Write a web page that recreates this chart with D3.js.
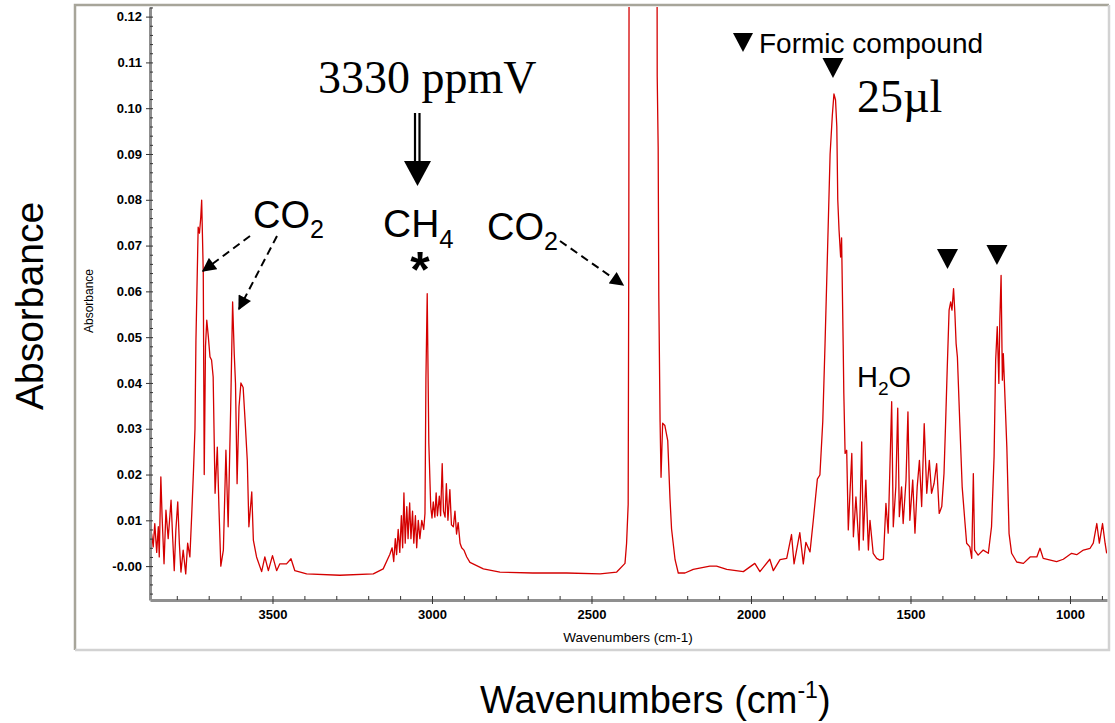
<!DOCTYPE html>
<html>
<head>
<meta charset="utf-8">
<script src="https://cdn.jsdelivr.net/npm/d3@7"></script>
<style>
  body { margin: 0; background: #fff; }
  text { font-family: Arial, "Liberation Sans", sans-serif; fill: #000; }
</style>
</head>
<body>
<script>
// spectrum, one value per point (cm-1 / absorbance)
var wavenumber = [
  3879, 3874, 3869, 3863, 3858, 3855, 3850, 3846, 3840,
  3834, 3827, 3818, 3813, 3808, 3803, 3797, 3792, 3787, 3780,
  3772, 3766, 3759, 3753, 3748, 3743, 3740, 3733, 3729, 3725,
  3722, 3717, 3714, 3710, 3706, 3701, 3696, 3691, 3686, 3680,
  3673, 3668, 3662, 3654, 3646, 3639, 3631, 3625, 3620, 3616,
  3611, 3605, 3599, 3592, 3586, 3579, 3574, 3565, 3560, 3550,
  3534, 3524, 3513, 3500, 3487, 3477, 3456, 3442, 3430, 3393,
  3289, 3184, 3153, 3132, 3125, 3120, 3115, 3111, 3106, 3101,
  3096, 3092, 3088, 3084, 3079, 3075, 3070, 3066, 3061, 3057,
  3052, 3048, 3043, 3038, 3032, 3026, 3022, 3019, 3015, 3010,
  3004, 3000, 2996, 2991, 2987, 2983, 2977, 2973, 2968, 2964,
  2959, 2955, 2950, 2944, 2939, 2933, 2928, 2923, 2918, 2912,
  2907, 2900, 2891, 2881, 2839, 2787, 2684, 2578, 2473, 2421,
  2395, 2390, 2385, 2383, 2380, 2298, 2294, 2291, 2289, 2285,
  2282, 2277, 2270, 2261, 2254, 2249, 2238, 2228, 2207, 2181,
  2129, 2108, 2076, 2024, 1988, 1972, 1941, 1930, 1909, 1888,
  1873, 1865, 1847, 1836, 1828, 1815, 1805, 1792, 1784, 1775,
  1768, 1760, 1752, 1745, 1740, 1735, 1731, 1728, 1724, 1719,
  1716, 1711, 1709, 1705, 1700, 1695, 1684, 1679, 1671, 1661,
  1653, 1648, 1640, 1632, 1627, 1617, 1606, 1596, 1585, 1577,
  1570, 1559, 1554, 1546, 1540, 1535, 1528, 1523, 1514, 1508,
  1502, 1493, 1486, 1479, 1472, 1465, 1457, 1449, 1441, 1434,
  1426, 1418, 1410, 1402, 1395, 1390, 1385, 1379, 1374, 1370,
  1365, 1361, 1357, 1353, 1345, 1338, 1329, 1324, 1314, 1308,
  1303, 1299, 1288, 1272, 1256, 1246, 1238, 1233, 1228, 1223,
  1220, 1216, 1212, 1209, 1198, 1191, 1183, 1167, 1146, 1125,
  1104, 1094, 1084, 1042, 1021, 995, 979, 958, 937, 927,
  916, 908, 898, 890, 885
];
var absorbance = [
  0.0071, 0.0042, 0.0093, 0.0030, 0.0086, 0.0020, 0.0195, 0.0107, 0.0005,
  0.0122, 0.0060, 0.0144, 0.0063, -0.0010, 0.0078, 0.0140, 0.0050, -0.0013, 0.0035,
  -0.0017, 0.0050, 0.0020, 0.0116, 0.0203, 0.0300, 0.0493, 0.0740, 0.0727, 0.0760,
  0.0799, 0.0640, 0.0200, 0.0480, 0.0537, 0.0500, 0.0457, 0.0450, 0.0413, 0.0159,
  0.0260, 0.0130, 0.0000, 0.0035, 0.0253, 0.0086, 0.0348, 0.0577, 0.0465, 0.0400,
  0.0180, 0.0348, 0.0400, 0.0390, 0.0319, 0.0230, 0.0086, 0.0162, 0.0057, 0.0020,
  -0.0012, 0.0020, -0.0010, 0.0023, -0.0010, 0.0005, 0.0005, 0.0016, -0.0010, -0.0017,
  -0.0020, -0.0017, -0.0006, 0.0026, 0.0040, 0.0010, 0.0060, 0.0025, 0.0080, 0.0030,
  0.0110, 0.0040, 0.0160, 0.0050, 0.0130, 0.0060, 0.0138, 0.0060, 0.0120, 0.0050,
  0.0110, 0.0040, 0.0100, 0.0060, 0.0100, 0.0080, 0.0115, 0.0410, 0.0595, 0.0270,
  0.0130, 0.0105, 0.0140, 0.0107, 0.0160, 0.0110, 0.0153, 0.0110, 0.0224, 0.0120,
  0.0107, 0.0180, 0.0100, 0.0167, 0.0090, 0.0086, 0.0120, 0.0070, 0.0095, 0.0050,
  0.0040, 0.0035, 0.0020, 0.0008, -0.0006, -0.0013, -0.0015, -0.0015, -0.0017, -0.0013,
  0.0006, 0.0050, 0.0135, 0.0720, 0.3000, 0.3000, 0.1070, 0.0914, 0.0590, 0.0316,
  0.0194, 0.0312, 0.0307, 0.0274, 0.0148, 0.0081, 0.0014, -0.0015, -0.0015, -0.0007,
  0.0000, 0.0000, -0.0007, -0.0012, 0.0006, -0.0012, 0.0015, -0.0010, 0.0014, 0.0017,
  0.0069, 0.0005, 0.0073, 0.0005, 0.0052, 0.0031, 0.0098, 0.0190, 0.0199, 0.0316,
  0.0483, 0.0690, 0.0900, 0.0985, 0.1031, 0.1018, 0.0960, 0.0800, 0.0734, 0.0675,
  0.0717, 0.0483, 0.0377, 0.0246, 0.0253, 0.0079, 0.0246, 0.0064, 0.0151, 0.0035,
  0.0271, 0.0057, 0.0188, 0.0035, 0.0100, 0.0028, 0.0017, 0.0013, 0.0015, 0.0137,
  0.0072, 0.0359, 0.0086, 0.0173, 0.0345, 0.0108, 0.0173, 0.0093, 0.0188, 0.0337,
  0.0100, 0.0188, 0.0072, 0.0173, 0.0231, 0.0130, 0.0311, 0.0159, 0.0231, 0.0159,
  0.0181, 0.0224, 0.0115, 0.0130, 0.0202, 0.0311, 0.0428, 0.0559, 0.0577, 0.0559,
  0.0606, 0.0555, 0.0486, 0.0457, 0.0304, 0.0173, 0.0093, 0.0050, 0.0042, 0.0017,
  0.0202, 0.0035, 0.0024, 0.0035, 0.0028, 0.0086, 0.0239, 0.0450, 0.0523, 0.0399,
  0.0537, 0.0635, 0.0406, 0.0464, 0.0260, 0.0071, 0.0028, 0.0009, 0.0006, 0.0020,
  0.0020, 0.0039, 0.0017, 0.0010, 0.0015, 0.0028, 0.0025, 0.0035, 0.0039, 0.0050,
  0.0093, 0.0050, 0.0093, 0.0050, 0.0028
];

var yTickValues = [0, 0.01, 0.02, 0.03, 0.04, 0.05, 0.06, 0.07, 0.08, 0.09, 0.10, 0.11, 0.12];
var xTickValues = [3500, 3000, 2500, 2000, 1500, 1000];
// formic compound bands marked with a triangle
var formicBands = [1743, 1384, 1229];

var plotLeft = 150, plotRight = 1107, plotTop = 7, plotBottom = 600;

var x = d3.scaleLinear().domain([3884, 884]).range([plotLeft, plotRight]);
var y = d3.scaleLinear().domain([-0.0074, 0.1221]).range([plotBottom, plotTop]);

var svg = d3.select("body").append("svg")
    .attr("width", 1115)
    .attr("height", 723);

// outer frame of the spectrum window
var frame = svg.append("g").attr("fill", "none").attr("stroke-width", 2.5);
frame.append("path").attr("d", "M75,650V5H1109").attr("stroke", "#a7a59a");
frame.append("path").attr("d", "M1109,5V650H75").attr("stroke", "#d2d2d2");

svg.append("clipPath").attr("id", "plotClip")
  .append("rect")
    .attr("x", plotLeft).attr("y", plotTop)
    .attr("width", plotRight - plotLeft).attr("height", plotBottom - plotTop);

var points = wavenumber.map(function (w, i) { return [w, absorbance[i]]; });

var line = d3.line()
    .x(function (d) { return x(d[0]); })
    .y(function (d) { return y(d[1]); });

svg.append("path")
    .datum(points)
    .attr("clip-path", "url(#plotClip)")
    .attr("fill", "none")
    .attr("stroke", "#d40000")
    .attr("stroke-width", 1.3)
    .attr("stroke-linejoin", "round")
    .attr("d", line);

// axes
svg.append("g")
    .attr("transform", "translate(" + plotLeft + ",0)")
    .call(d3.axisLeft(y)
        .tickValues(yTickValues)
        .tickFormat(function (d) { return d === 0 ? "-0.00" : d3.format(".2f")(d); })
        .tickSize(4).tickSizeOuter(0).tickPadding(4));

svg.append("g")
    .attr("transform", "translate(" + plotLeft + ",0)")
    .call(d3.axisLeft(y).tickValues(d3.range(-0.006, 0.1221, 0.002)).tickFormat("").tickSize(-3))
    .call(function (g) { g.select(".domain").remove(); });

svg.append("g")
    .attr("transform", "translate(0," + plotBottom + ")")
    .call(d3.axisBottom(x)
        .tickValues(xTickValues)
        .tickFormat(d3.format("d"))
        .tickSize(4).tickSizeOuter(0).tickPadding(6));

svg.append("g")
    .attr("transform", "translate(0," + plotBottom + ")")
    .call(d3.axisBottom(x).tickValues(d3.range(900, 3900, 100)).tickFormat("").tickSize(-4))
    .call(function (g) { g.select(".domain").remove(); });

svg.selectAll(".domain").attr("stroke", "#8f8f8f").attr("stroke-width", 3);
svg.selectAll(".tick line").attr("stroke", "#333");
svg.selectAll(".tick text")
    .attr("fill", "#1a1a1a")
    .style("font-size", "13px")
    .style("font-weight", "bold")
    .style("font-family", "Arial, 'Liberation Sans', sans-serif");

// small titles of the instrument plot
svg.append("text")
    .attr("transform", "translate(93,301) rotate(-90)")
    .attr("text-anchor", "middle")
    .style("font-size", "12px")
    .text("Absorbance");

svg.append("text")
    .attr("x", 628).attr("y", 642)
    .attr("text-anchor", "middle")
    .style("font-size", "13.5px")
    .text("Wavenumbers (cm-1)");

// big titles
svg.append("text")
    .attr("transform", "translate(43,306) rotate(-90)")
    .attr("text-anchor", "middle")
    .style("font-size", "39px")
    .text("Absorbance");

var bigX = svg.append("text")
    .attr("x", 480).attr("y", 713)
    .style("font-size", "38px");
bigX.append("tspan").text("Wavenumbers (cm");
bigX.append("tspan").attr("dy", -15).style("font-size", "23px").text("-1");
bigX.append("tspan").attr("dy", 15).text(")");

// labels with a subscript
function formula(px, py, main, sub, after, size) {
  var t = svg.append("text").attr("x", px).attr("y", py).style("font-size", size + "px");
  t.append("tspan").text(main);
  t.append("tspan").attr("dy", size * 0.27).style("font-size", (size * 0.66) + "px").text(sub);
  if (after) t.append("tspan").attr("dy", -size * 0.27).text(after);
  return t;
}

formula(253, 228, "CO", "2", null, 38);
formula(383, 237, "CH", "4", null, 39);
formula(487, 240, "CO", "2", null, 38);
formula(857, 387, "H", "2", "O", 29);

svg.append("text")
    .attr("x", 420).attr("y", 287)
    .attr("text-anchor", "middle")
    .style("font-size", "50px")
    .style("font-weight", "bold")
    .text("*");

svg.append("text")
    .attr("x", 318).attr("y", 93)
    .style("font-family", "'Liberation Serif', 'Times New Roman', serif")
    .style("font-size", "46px")
    .text("3330 ppmV");

svg.append("text")
    .attr("x", 857).attr("y", 112)
    .style("font-family", "'Liberation Serif', 'Times New Roman', serif")
    .style("font-size", "46px")
    .text("25\u00b5l");

svg.append("text")
    .attr("x", 759).attr("y", 53)
    .style("font-size", "28px")
    .text("Formic compound");

// triangles
function triangle(cx, ty, w, h) {
  return "M" + (cx - w / 2) + "," + ty + "H" + (cx + w / 2) + "L" + cx + "," + (ty + h) + "Z";
}
var markTops = [58, 249, 245];
svg.append("path").attr("d", triangle(743, 33, 20, 19)).attr("fill", "#000");
svg.selectAll(".band-mark")
    .data(formicBands)
  .enter().append("path")
    .attr("class", "band-mark")
    .attr("fill", "#000")
    .attr("d", function (d, i) { return triangle(x(d), markTops[i], 21, 20); });

// double shafted arrow to CH4
var arrow = svg.append("g").attr("stroke", "#000").attr("stroke-width", 2.2);
arrow.append("line").attr("x1", 415).attr("x2", 415).attr("y1", 113).attr("y2", 164);
arrow.append("line").attr("x1", 419.5).attr("x2", 419.5).attr("y1", 113).attr("y2", 164);
svg.append("path").attr("d", "M404,161H431L417.5,186Z").attr("fill", "#000");

// dashed pointers
svg.append("defs").append("marker")
    .attr("id", "head")
    .attr("viewBox", "0 0 10 10")
    .attr("refX", 9).attr("refY", 5)
    .attr("markerWidth", 7.5).attr("markerHeight", 7)
    .attr("markerUnits", "strokeWidth")
    .attr("orient", "auto")
  .append("path")
    .attr("d", "M0,0L10,5L0,10Z")
    .attr("fill", "#000");

var pointers = [
  [250, 236, 203, 271],
  [277, 236, 239, 309],
  [560, 241, 623, 285]
];
svg.selectAll(".pointer")
    .data(pointers)
  .enter().append("line")
    .attr("class", "pointer")
    .attr("x1", function (d) { return d[0]; })
    .attr("y1", function (d) { return d[1]; })
    .attr("x2", function (d) { return d[2]; })
    .attr("y2", function (d) { return d[3]; })
    .attr("stroke", "#000")
    .attr("stroke-width", 2)
    .attr("stroke-dasharray", "8,5")
    .attr("marker-end", "url(#head)");
</script>
</body>
</html>
